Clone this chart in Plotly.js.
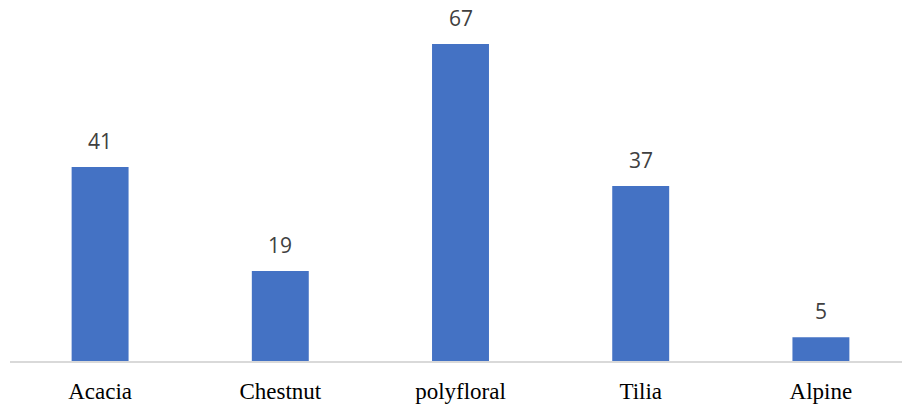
<!DOCTYPE html>
<html>
<head>
<meta charset="utf-8">
<script src="https://cdn.plot.ly/plotly-3.0.1.min.js"></script>
<style>
  html, body { margin: 0; padding: 0; background: #ffffff; }
  #chart { width: 902px; height: 404px; }
</style>
</head>
<body>
<div id="chart"></div>
<script>
// Honey types and their counts
const categories = ['Acacia', 'Chestnut', 'polyfloral', 'Tilia', 'Alpine'];
const counts = [41, 19, 67, 37, 5];

const trace = {
  type: 'bar',
  x: categories,
  y: counts,
  width: 0.316,
  marker: { color: '#4472C4' },
  hoverinfo: 'x+y'
};

// Value labels sitting above each bar
const valueLabels = categories.map((c, i) => ({
  x: c,
  y: counts[i],
  xref: 'x',
  yref: 'y',
  text: String(counts[i]),
  showarrow: false,
  yanchor: 'bottom',
  yshift: 10,
  font: { family: 'Open Sans, sans-serif', size: 21, color: '#404040' }
}));

const layout = {
  width: 902,
  height: 404,
  margin: { l: 10, r: 0, t: 0, b: 43 },
  paper_bgcolor: '#ffffff',
  plot_bgcolor: '#ffffff',
  showlegend: false,
  xaxis: {
    type: 'category',
    range: [-0.5, 4.45],
    showline: true,
    linecolor: '#d9d9d9',
    linewidth: 1.5,
    showgrid: false,
    zeroline: false,
    ticks: '',
    ticklabelstandoff: 9,
    tickfont: { family: 'Liberation Serif, Times New Roman, serif', size: 23, color: '#000000' }
  },
  yaxis: {
    range: [0, 76.3],
    visible: false,
    showgrid: false,
    zeroline: false
  },
  annotations: valueLabels
};

Plotly.newPlot('chart', [trace], layout, { displayModeBar: false, staticPlot: true });
</script>
</body>
</html>
